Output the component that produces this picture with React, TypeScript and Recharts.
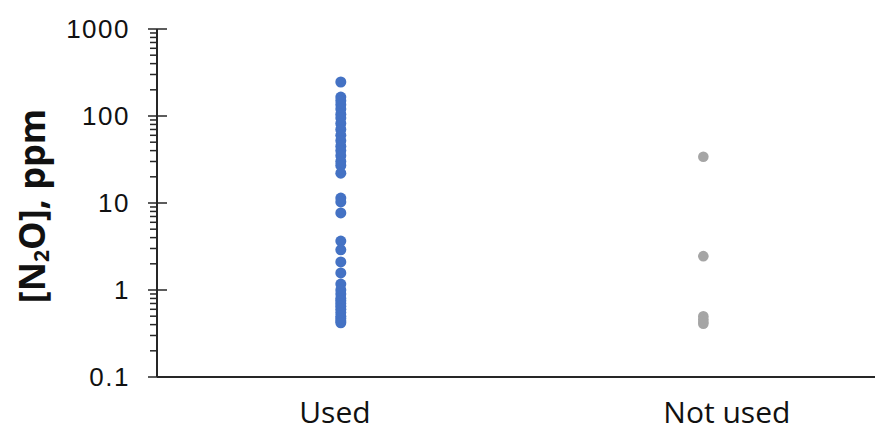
import { ScatterChart, Scatter, XAxis, YAxis } from "recharts";

// N2O concentration readings (ppm)
const usedValues = [
  246, 165, 150, 135, 120, 105, 95, 82, 70, 60, 52, 45, 40, 35, 30, 27, 22,
  11.4, 10.3, 7.7, 3.65, 2.9, 2.1, 1.57, 1.17,
  1.0, 0.9, 0.8, 0.75, 0.7, 0.65, 0.6, 0.55, 0.5, 0.47, 0.44, 0.42,
];
const notUsedValues = [34, 2.45, 0.5, 0.46, 0.43, 0.41];

const categories = ["Used", "Not used"];
// where each label sits and where each column of dots sits on the x scale
const labelPos = [1, 2];
const dotPos = [1.015, 1.94];

const majorTicks = [0.1, 1, 10, 100, 1000];
const minorTicks = [
  0.2, 0.3, 0.4, 0.5, 0.6, 0.7, 0.8, 0.9,
  2, 3, 4, 5, 6, 7, 8, 9,
  20, 30, 40, 50, 60, 70, 80, 90,
  200, 300, 400, 500, 600, 700, 800, 900,
];

const usedData = usedValues.map((v) => ({ x: dotPos[0], y: v }));
const notUsedData = notUsedValues.map((v) => ({ x: dotPos[1], y: v }));

const AXIS = "#262626";

function YTick(props: any) {
  const { x, y, payload } = props;
  const v = payload.value;
  const major = majorTicks.includes(v);
  return (
    <g>
      <line
        x1={x - (major ? 9 : 7)}
        x2={major && v !== 0.1 ? x + 10 : x}
        y1={y}
        y2={y}
        stroke={AXIS}
        strokeWidth={1.5}
      />
      {major && (
        <text
          x={x - 27}
          y={y}
          textAnchor="end"
          dominantBaseline="central"
          fill="#111"
          style={{ fontFamily: "'Liberation Sans', Arial, sans-serif", fontSize: 26, letterSpacing: 1.5 }}
        >
          {String(v)}
        </text>
      )}
    </g>
  );
}

function XTick(props: any) {
  const { x, y, payload } = props;
  const idx = labelPos.indexOf(payload.value);
  return (
    <text
      x={x}
      y={y + 34}
      textAnchor="middle"
      dominantBaseline="central"
      fill="#111"
      style={{ fontFamily: "'Open Sans', sans-serif", fontSize: 30 }}
    >
      {categories[idx]}
    </text>
  );
}

export default function App() {
  return (
    <div style={{ width: 875, height: 430, position: "relative", background: "#fff" }}>
      <style>{`body{margin:0}`}</style>
      <ScatterChart width={875} height={430} margin={{ top: 29, right: 0, bottom: 0, left: 0 }}>
        <XAxis
          type="number"
          dataKey="x"
          domain={[0.546, 2.378]}
          ticks={labelPos}
          height={53}
          tickSize={0}
          tickMargin={0}
          tickLine={false}
          axisLine={{ stroke: AXIS, strokeWidth: 2 }}
          tick={<XTick />}
          allowDataOverflow
        />
        <YAxis
          type="number"
          dataKey="y"
          scale="log"
          domain={[0.1, 1000]}
          ticks={[...majorTicks, ...minorTicks].sort((a, b) => a - b)}
          interval={0}
          width={157}
          tickSize={0}
          tickMargin={0}
          tickLine={false}
          axisLine={{ stroke: AXIS, strokeWidth: 2 }}
          tick={<YTick />}
          allowDataOverflow
        />
        <Scatter data={usedData} fill="#4472C4" shape={(p: any) => <circle cx={p.cx} cy={p.cy} r={5.5} fill="#4472C4" />} isAnimationActive={false} />
        <Scatter data={notUsedData} fill="#A5A5A5" shape={(p: any) => <circle cx={p.cx} cy={p.cy} r={5.3} fill="#A5A5A5" />} isAnimationActive={false} />
      </ScatterChart>
      <div
        style={{
          position: "absolute",
          left: 33,
          top: 206,
          transform: "translate(-50%, -50%) rotate(-90deg)",
          whiteSpace: "nowrap",
          fontFamily: "'Open Sans', sans-serif",
          fontWeight: 700,
          fontSize: 36,
          color: "#111",
          lineHeight: 1,
        }}
      >
        [N<sub style={{ fontSize: 21, verticalAlign: "-4px" }}>2</sub>O], ppm
      </div>
    </div>
  );
}
